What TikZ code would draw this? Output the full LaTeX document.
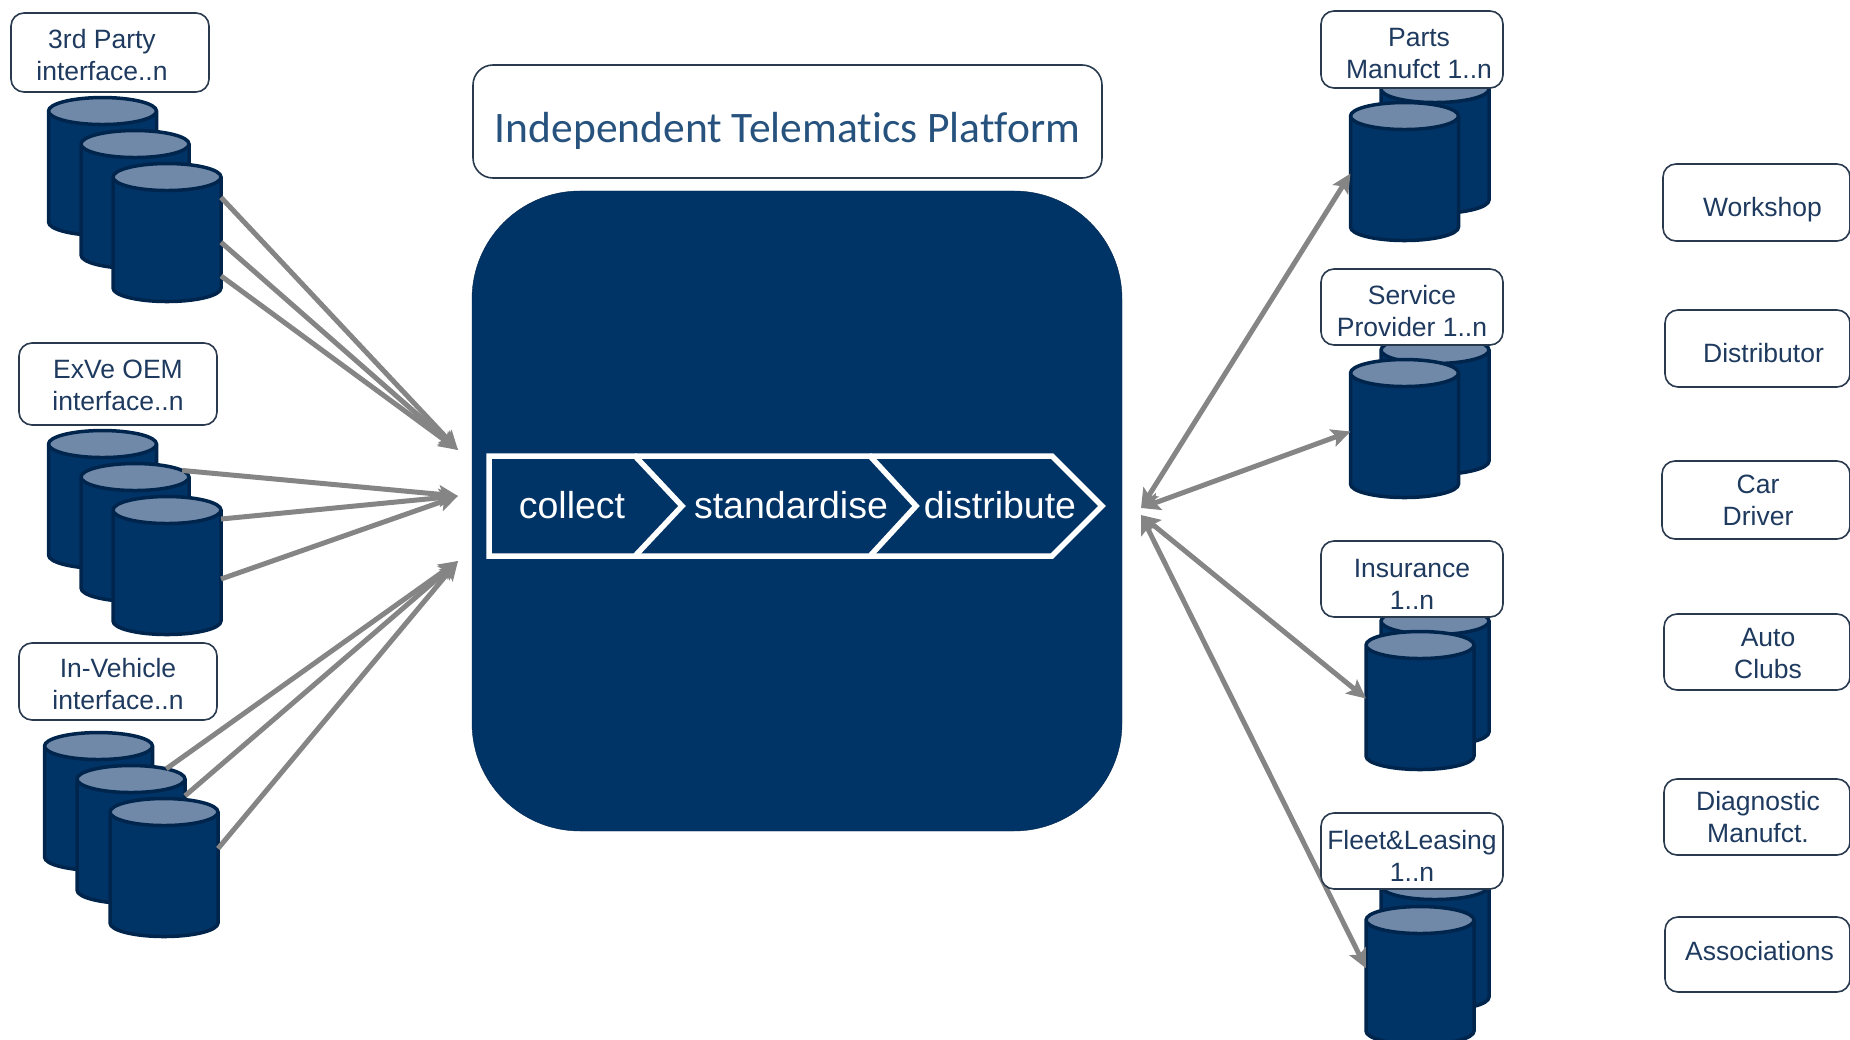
\documentclass[tikz,border=0pt]{standalone}
\usepackage{fontspec}
\setmainfont{Liberation Sans}
\newfontfamily\titlefont[Ligatures=NoCommon]{Carlito}
\usetikzlibrary{shapes.geometric,arrows.meta}
\definecolor{navy}{HTML}{003366}
\definecolor{navyedge}{HTML}{00254D}
\definecolor{navylight}{HTML}{7089A8}
\definecolor{boxtext}{HTML}{1F3A5F}
\definecolor{boxedge}{HTML}{2A3A4E}
\definecolor{arrowgrey}{HTML}{858585}
\tikzset{
  dbcyl/.style={cylinder, shape border rotate=90, cylinder uses custom fill,
    cylinder body fill=navy, cylinder end fill=navylight, draw=navyedge, line width=3.5pt,
    shape aspect=0.5, minimum width=108pt, minimum height=138pt, outer sep=0pt, inner sep=27pt,
    yshift=-13pt},
  lbox/.style={rectangle, rounded corners=13pt, draw=boxedge, line width=1.6pt, fill=white,
    outer sep=0pt, inner sep=0pt},
  ltxt/.style={text=boxtext, align=center, inner sep=0pt, font=\fontsize{26.5}{32}\selectfont},
  flow/.style={draw=arrowgrey, line width=5pt, >={Stealth[length=19pt,width=18pt,inset=4pt]}},
  chev/.style={draw=white, line width=5.5pt, line join=miter},
  stepname/.style={text=white, inner sep=0pt, font=\fontsize{37.5}{44}\selectfont}
}
\begin{document}
\begin{tikzpicture}[auto, x=1pt, y=-1pt]
  \useasboundingbox (0,0) rectangle (1850,1040);

  % title and platform
  \node [lbox, rounded corners=20pt, minimum width=629pt, minimum height=113pt,
     label={[text=navy!85!white, inner sep=0pt, yshift=-9pt, font=\titlefont\fontsize{43.5}{50}\selectfont]center:Independent Telematics Platform}]
     (ttl) at (787.5,121.5) {};
  \node [rectangle, fill=navy, draw=navyedge, rounded corners=108pt, minimum width=650pt,
     minimum height=640pt, outer sep=0pt] (hub) at (797,511) {};

  \draw [chev] (489,456) -- (635,456) -- (682,506) -- (635,556) -- (489,556) -- cycle;
  \draw [chev] (635,456) -- (870,456) -- (916,506) -- (870,556) -- (635,556);
  \draw [chev] (870,456) -- (1052,456) -- (1102,506) -- (1052,556) -- (870,556);
  \node [stepname] (collect) at (572,505) {collect};
  \node [stepname] (standardise) at (791,505) {standardise};
  \node [stepname] (distribute) at (1000,505) {distribute};

  % inputs
  \node [dbcyl] (tp1) at (102.5,167) {};
  \node [dbcyl] (tp2) at (135,200) {};
  \node [dbcyl] (tp3) at (167,233) {};

  \node [dbcyl] (ge1) at (102.5,500) {};
  \node [dbcyl] (ge2) at (135,533) {};
  \node [dbcyl] (ge3) at (167,566) {};

  \node [dbcyl] (iv1) at (98.5,802) {};
  \node [dbcyl] (iv2) at (131,835) {};
  \node [dbcyl] (iv3) at (164,868) {};

  % outputs
  \node [dbcyl] (pm2) at (1435,145) {};
  \node [dbcyl] (pm1) at (1404.5,172) {};
  \node [dbcyl] (sp2) at (1435,406) {};
  \node [dbcyl] (sp1) at (1404.5,429) {};
  \node [dbcyl] (ins2) at (1435,677) {};
  \node [dbcyl] (ins1) at (1420,701) {};
  \node [dbcyl] (fl2) at (1435,942) {};
  \node [dbcyl] (fl1) at (1420,976) {};

  \coordinate (inTop) at (458,450);
  \coordinate (inMid) at (458,496);
  \coordinate (inLow) at (458,561);
  \coordinate (outUp) at (1141,508);
  \coordinate (outLow) at (1141,515);

  \draw [flow,->] (tp3.42) -- (inTop);
  \draw [flow,->] (tp3.4) -- (inTop);
  \draw [flow,->] (tp3.-29) -- (inTop);
  \draw [flow,->] (ge2.58) -- (inMid);
  \draw [flow,->] (ge3.48) -- (inMid);
  \draw [flow,->] (ge3.0) -- (inMid);
  \draw [flow,->] (iv2.66) -- (inLow);
  \draw [flow,->] (iv2.44) -- (inLow);
  \draw [flow,->] (iv3.31) -- (inLow);
  \draw [flow,<->] (outUp) -- (pm1.168);
  \draw [flow,<->] (outUp) -- (sp1.169);
  \draw [flow,<->] (outLow) -- (ins1.164);
  \draw [flow,<->] (outLow) -- (fl1.159);

  % labels
  \node [lbox, minimum width=198pt, minimum height=79pt,
     label={[ltxt,xshift=-8pt,yshift=-3pt]center:{3rd Party\\interface..n}}] (tpbox) at (110,52.5) {};
  \node [lbox, minimum width=198pt, minimum height=82pt,
     label={[ltxt,yshift=-1pt]center:{ExVe OEM\\interface..n}}] (gebox) at (118,384) {};
  \node [lbox, minimum width=198pt, minimum height=77pt,
     label={[ltxt,yshift=-3pt]center:{In-Vehicle\\interface..n}}] (ivbox) at (118,681.5) {};
  \node [lbox, minimum width=182pt, minimum height=77pt,
     label={[ltxt,xshift=7pt,yshift=-4pt]center:{Parts\\Manufct 1..n}}] (pmbox) at (1412,49.5) {};
  \node [lbox, minimum width=182pt, minimum height=76pt,
     label={[ltxt,yshift=-4pt]center:{Service\\Provider 1..n}}] (spbox) at (1412,307) {};
  \node [lbox, minimum width=182pt, minimum height=76pt,
     label={[ltxt,yshift=-5pt]center:{Insurance\\1..n}}] (insbox) at (1412,579) {};
  \node [lbox, minimum width=182pt, minimum height=76pt,
     label={[ltxt,yshift=-5pt]center:{Fleet\&Leasing\\1..n}}] (flbox) at (1412,851) {};

  \node [lbox, minimum width=187pt, minimum height=77pt,
     label={[ltxt,xshift=6pt,yshift=-7pt]center:Workshop}] (workshop) at (1756.5,202.5) {};
  \node [lbox, minimum width=185pt, minimum height=77pt,
     label={[ltxt,xshift=6pt,yshift=-5pt]center:Distributor}] (distributor) at (1757.5,348.5) {};
  \node [lbox, minimum width=188pt, minimum height=78pt,
     label={[ltxt,xshift=2pt]center:{Car\\Driver}}] (driver) at (1756,500) {};
  \node [lbox, minimum width=186pt, minimum height=76pt,
     label={[ltxt,xshift=11pt,yshift=-2pt]center:{Auto\\Clubs}}] (clubs) at (1757,652) {};
  \node [lbox, minimum width=186pt, minimum height=76pt,
     label={[ltxt,xshift=1pt]center:{Diagnostic\\Manufct.}}] (diag) at (1757,817) {};
  \node [lbox, minimum width=185pt, minimum height=75pt,
     label={[ltxt,xshift=2pt,yshift=3.5pt]center:Associations}] (assoc) at (1757.5,954.5) {};
\end{tikzpicture}
\end{document}
